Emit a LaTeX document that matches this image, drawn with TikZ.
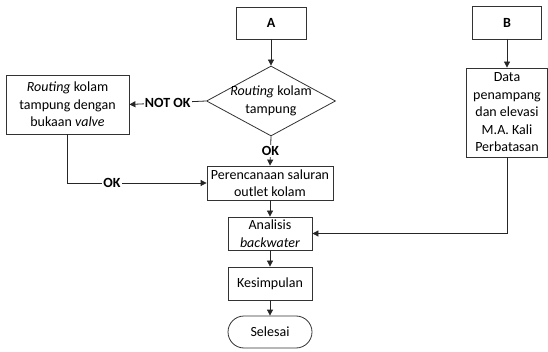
\documentclass[tikz,border=0pt]{standalone}
\usepackage{fontspec}
\setmainfont{Carlito}
\usetikzlibrary{arrows.meta,shapes.geometric}
\tikzset{
  box/.style={draw=black!80, line width=0.8pt, align=center, inner sep=1pt, font=\fontsize{14}{17.5}\selectfont},
  dia/.style={draw=black!80, line width=0.8pt, diamond, inner sep=0pt},
  txt/.style={align=center, inner sep=0pt, font=\fontsize{14}{17.5}\selectfont},
  lbl/.style={fill=white, inner sep=1pt, font=\fontsize{14}{17.5}\selectfont\bfseries},
  arr/.style={draw=black!85, line width=0.8pt, -{Triangle[length=6pt,width=6pt]}},
  ln/.style={draw=black!85, line width=0.8pt}
}
\begin{document}
\begin{tikzpicture}[x=1pt,y=-1pt]
\useasboundingbox (0,0) rectangle (548,352);
\node[box, minimum width=70pt, minimum height=32pt] (A) at (271,23) {\textbf{A}};
\node[dia, minimum width=129pt, minimum height=70pt] (d) at (271,101) {};
\node[txt] (dt) at (271,101) {\textit{Routing} kolam\\tampung};
\node[box, minimum width=123pt, minimum height=59pt] (R) at (67.5,104.5) {\textit{Routing} kolam\\tampung dengan\\bukaan \textit{valve}};
\node[box, minimum width=126pt, minimum height=34pt] (P) at (270,183) {Perencanaan saluran\\outlet kolam};
\node[box, minimum width=84pt, minimum height=33pt] (An) at (270,233.5) {Analisis\\\textit{backwater}};
\node[box, minimum width=84pt, minimum height=33pt] (K) at (270,283.5) {Kesimpulan};
\node[box, rounded corners=16pt, minimum width=84pt, minimum height=32pt] (S) at (270,332) {Selesai};
\node[box, minimum width=69pt, minimum height=33pt] (B) at (507,22.5) {\textbf{B}};
\node[box, minimum width=81pt, minimum height=89pt] (D) at (507,112.5) {Data\\penampang\\dan elevasi\\M.A. Kali\\Perbatasan};
\draw[arr] (A.south) -- (d.north);
\draw[arr] (d.south) -- node[lbl] {OK} (P.north);
\draw[arr] (d.west) -- node[lbl] {NOT OK} (R.east);
\draw[arr] (R.south) |- node[lbl, pos=0.66] {OK} (P.west);
\draw[arr] (P.south) -- (An.north);
\draw[arr] (An.south) -- (K.north);
\draw[arr] (K.south) -- (S.north);
\draw[arr] (B.south) -- (D.north);
\draw[arr] (D.south) |- (An.east);
\end{tikzpicture}
\end{document}
